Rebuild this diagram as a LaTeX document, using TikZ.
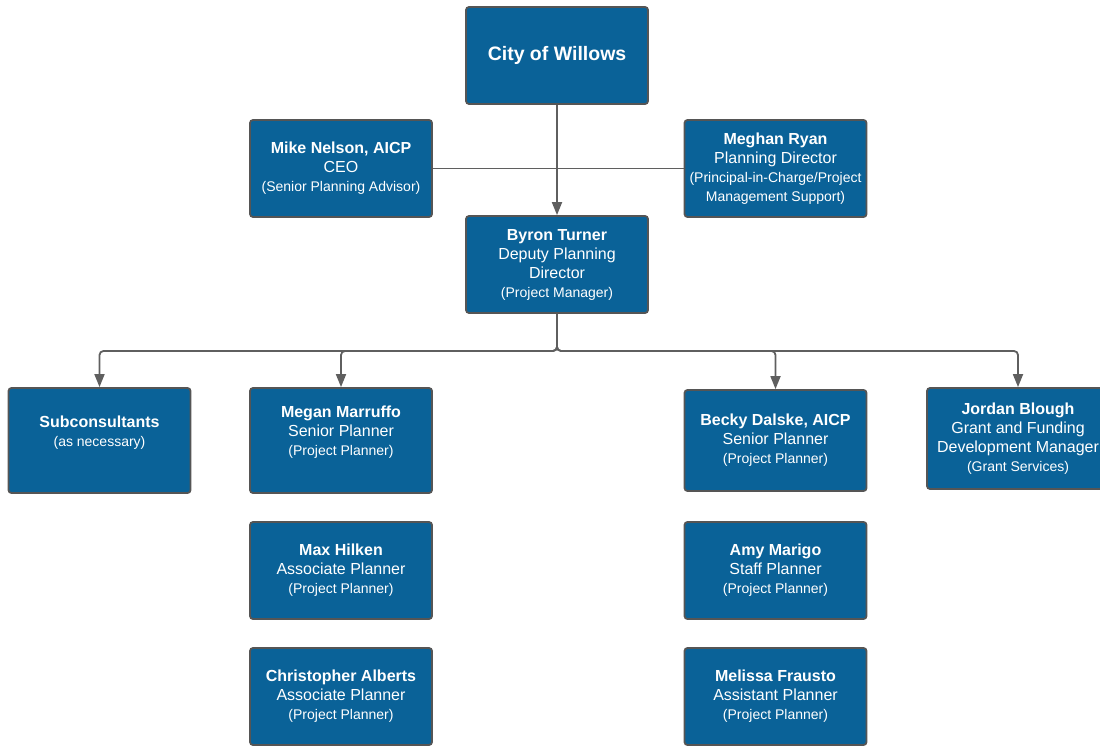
\documentclass[tikz,border=0pt]{standalone}
\usepackage{fontspec}
\setmainfont{Liberation Sans}
\usetikzlibrary{arrows.meta}
\definecolor{boxblue}{RGB}{10,98,152}
\definecolor{boxedge}{RGB}{85,85,85}
\definecolor{linkgray}{RGB}{95,95,95}
\newcommand{\nm}[1]{{\bfseries #1}}
\newcommand{\sm}[1]{{\fontsize{14}{19}\selectfont #1}}

\begin{document}
\begin{tikzpicture}[x=1pt,y=-1pt,
  box/.style={draw=boxedge, line width=1.8pt, fill=boxblue, rounded corners=3pt, text=white, align=center, minimum width=182pt, minimum height=97pt, inner sep=1pt, font=\fontsize{16}{19}\selectfont},
  link/.style={draw=linkgray, line width=1.8pt},
  arrow/.style={link, -{Triangle[length=13pt,width=10pt]}, rounded corners=4pt}]
\useasboundingbox (0,0) rectangle (1100,746);
\clip (0,0) rectangle (1100,746);
\node[box] (city) at (557,55.5) {\fontsize{19.5}{23}\selectfont\bfseries City of Willows};
\node[box] (mike) at (341,168.5) {\nm{Mike Nelson, AICP}\\CEO\\\sm{(Senior Planning Advisor)}};
\node[box] (meghan) at (775.5,168.5) {\nm{Meghan Ryan}\\Planning Director\\\sm{(Principal-in-Charge/Project}\\\sm{Management Support)}};
\node[box] (byron) at (557,264.5) {\nm{Byron Turner}\\Deputy Planning\\Director\\\sm{(Project Manager)}};
\node[box, minimum height=105pt] (sub) at (99.5,440.5) {\nm{Subconsultants}\\\sm{(as necessary)}\\~};
\node[box, minimum height=105pt] (megan) at (341,440.5) {\nm{Megan Marruffo}\\Senior Planner\\\sm{(Project Planner)}\\~};
\node[box] (max) at (341,570.5) {\nm{Max Hilken}\\Associate Planner\\\sm{(Project Planner)}};
\node[box] (chris) at (341,696.5) {\nm{Christopher Alberts}\\Associate Planner\\\sm{(Project Planner)}};
\node[box, minimum height=101pt] (becky) at (775.5,440.5) {\nm{Becky Dalske, AICP}\\Senior Planner\\\sm{(Project Planner)}};
\node[box] (amy) at (775.5,570.5) {\nm{Amy Marigo}\\Staff Planner\\\sm{(Project Planner)}};
\node[box] (melissa) at (775.5,696.5) {\nm{Melissa Frausto}\\Assistant Planner\\\sm{(Project Planner)}};
\node[box, minimum height=101pt] (jordan) at (1018,438.5) {\nm{Jordan Blough}\\Grant and Funding\\Development Manager\\\sm{(Grant Services)}};
\draw[link] (mike.east) -- (meghan.west);
\draw[arrow] (city.south) -- (byron.north);
\coordinate (bus) at (557,351);
\foreach \t in {sub,megan,becky,jordan}
  \draw[arrow] (byron.south) -- (bus) -| (\t.north);
\end{tikzpicture}
\end{document}
